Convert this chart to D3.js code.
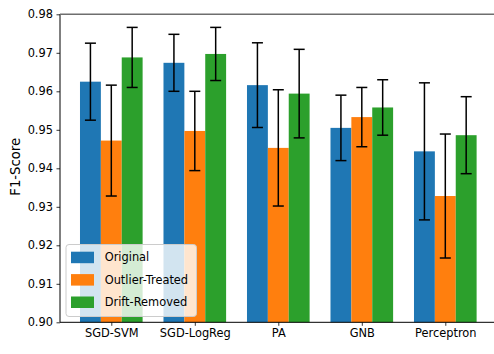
<!DOCTYPE html>
<html>
<head>
<meta charset="utf-8">
<script src="https://cdn.jsdelivr.net/npm/d3@7"></script>
<style>
  body { margin: 0; background: #fff; }
  svg text { font-family: "DejaVu Sans", sans-serif; }
</style>
</head>
<body>
<div id="chart"></div>
<script>
//
// Grouped bar chart with error bars (F1-Score)
//
const models = ["SGD-SVM", "SGD-LogReg", "PA", "GNB", "Perceptron"]
const seriesNames = ["Original", "Outlier-Treated", "Drift-Removed"]
const colours = ["#1f77b4", "#ff7f0e", "#2ca02c"]
// mean values per series, one entry per model
const originalMean = [0.9625, 0.9674, 0.9616, 0.9505, 0.9444]
const outlierMean  = [0.9472, 0.9497, 0.9453, 0.9533, 0.9328]
const driftMean    = [0.9688, 0.9697, 0.9594, 0.9558, 0.9486]
// error (std) per series
const originalErr = [0.0100, 0.0074, 0.0110, 0.0085, 0.0178]
const outlierErr  = [0.0144, 0.0103, 0.0151, 0.0077, 0.0161]
const driftErr    = [0.0078, 0.0069, 0.0115, 0.0072, 0.0100]
const yTicks = [0.90, 0.91, 0.92, 0.93, 0.94, 0.95, 0.96, 0.97, 0.98]

const means = [originalMean, outlierMean, driftMean]
const errs = [originalErr, outlierErr, driftErr]

const W = 494, H = 354
const margin = { left: 60, top: 14.3, bottom: 31.7 }
const plotH = H - margin.top - margin.bottom
const unit = 83.5            // pixels per category
const xLeft = -0.6144
const xRight = xLeft + (W + 10 - margin.left) / unit

const svg = d3.select("#chart").append("svg")
  .attr("width", W).attr("height", H)

const x = d3.scaleLinear().domain([xLeft, xRight]).range([margin.left, W + 10])
const y = d3.scaleLinear().domain([0.90, 0.98]).range([margin.top + plotH, margin.top])
const barW = 0.25

// bars
let rows = []
seriesNames.forEach(function(s, si) {
  models.forEach(function(m, mi) {
    rows.push({ si: si, mi: mi, v: means[si][mi], e: errs[si][mi] })
  })
})

svg.selectAll("rect.bar")
  .data(rows)
  .enter().append("rect")
    .attr("class", "bar")
    .attr("x", d => x(d.mi + (d.si - 1) * barW - barW / 2))
    .attr("width", d => x(barW) - x(0))
    .attr("y", d => y(d.v))
    .attr("height", d => y(0.90) - y(d.v))
    .attr("fill", d => colours[d.si])

// error bars
const cap = 5.5
const eb = svg.selectAll("g.err").data(rows).enter().append("g")
  .attr("stroke", "#000").attr("stroke-width", 1.5)
eb.append("line")
  .attr("x1", d => x(d.mi + (d.si - 1) * barW)).attr("x2", d => x(d.mi + (d.si - 1) * barW))
  .attr("y1", d => y(d.v + d.e)).attr("y2", d => y(d.v - d.e))
eb.append("line")
  .attr("x1", d => x(d.mi + (d.si - 1) * barW) - cap).attr("x2", d => x(d.mi + (d.si - 1) * barW) + cap)
  .attr("y1", d => y(d.v + d.e)).attr("y2", d => y(d.v + d.e))
eb.append("line")
  .attr("x1", d => x(d.mi + (d.si - 1) * barW) - cap).attr("x2", d => x(d.mi + (d.si - 1) * barW) + cap)
  .attr("y1", d => y(d.v - d.e)).attr("y2", d => y(d.v - d.e))

// axes
const yAxis = svg.append("g")
  .attr("transform", "translate(" + margin.left + ",0)")
  .call(d3.axisLeft(y).tickValues(yTicks).tickFormat(d3.format(".2f")).tickSize(3.5).tickPadding(3.5))
const xAxis = svg.append("g")
  .attr("transform", "translate(0," + y(0.90) + ")")
  .call(d3.axisBottom(x).tickValues(d3.range(models.length)).tickFormat(i => models[i]).tickSize(3.5).tickPadding(3.5))
;[yAxis, xAxis].forEach(function(a) {
  a.select(".domain").remove()
  a.selectAll("line").attr("stroke", "#000").attr("stroke-width", 0.8)
  a.selectAll("text").attr("fill", "#000").style("font-size", "11.4px")
})

// spines
svg.append("line").attr("x1", margin.left).attr("x2", margin.left)
  .attr("y1", y(0.98)).attr("y2", y(0.90)).attr("stroke", "#000").attr("stroke-width", 1)
svg.append("line").attr("x1", margin.left).attr("x2", W)
  .attr("y1", y(0.90)).attr("y2", y(0.90)).attr("stroke", "#000").attr("stroke-width", 1)
svg.append("line").attr("x1", margin.left).attr("x2", W)
  .attr("y1", y(0.98)).attr("y2", y(0.98)).attr("stroke", "#6e6e6e").attr("stroke-width", 1.6)

// y label
svg.append("text")
  .attr("transform", "translate(20," + (margin.top + plotH / 2 - 1.5) + ") rotate(-90)")
  .attr("text-anchor", "middle")
  .style("font-size", "13.2px")
  .text("F1-Score")

// legend
const lg = svg.append("g").attr("transform", "translate(66,244.5)")
lg.append("rect").attr("width", 130.5).attr("height", 72).attr("rx", 3)
  .attr("fill", "#fff").attr("fill-opacity", 0.8).attr("stroke", "#ccc").attr("stroke-width", 1)
seriesNames.forEach(function(s, i) {
  lg.append("rect").attr("x", 5).attr("y", 7.2 + i * 22.4).attr("width", 23).attr("height", 11.5)
    .attr("fill", colours[i])
  lg.append("text").attr("x", 38.7).attr("y", 13 + i * 22.4).attr("dy", "0.35em")
    .style("font-size", "11.4px").text(s)
})
</script>
</body>
</html>
